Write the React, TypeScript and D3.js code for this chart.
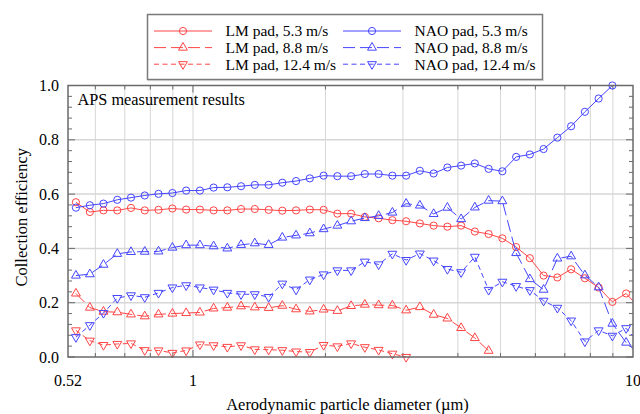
import * as d3 from "d3";
import React, { useRef, useEffect } from "react";

// APS channel midpoints (um)
const diameters = [
  0.542, 0.583, 0.626, 0.673, 0.723, 0.777, 0.835, 0.898, 0.965, 1.037,
  1.114, 1.197, 1.286, 1.382, 1.486, 1.596, 1.715, 1.843, 1.981, 2.129,
  2.288, 2.458, 2.642, 2.839, 3.051, 3.278, 3.523, 3.786, 4.068, 4.371,
  4.698, 5.048, 5.425, 5.829, 6.264, 6.732, 7.234, 7.774, 8.354, 8.977,
  9.647, 10.37,
];

const lm53 = [
  0.57, 0.534, 0.54, 0.54, 0.549, 0.54, 0.542, 0.547, 0.543, 0.543,
  0.54, 0.54, 0.545, 0.545, 0.542, 0.539, 0.54, 0.543, 0.542, 0.528,
  0.528, 0.516, 0.511, 0.504, 0.5, 0.492, 0.484, 0.48, 0.484, 0.462,
  0.453, 0.437, 0.405, 0.364, 0.3, 0.293, 0.323, 0.29, 0.256, 0.203,
  0.234, 0.178,
];
const lm88 = [
  0.234, 0.182, 0.167, 0.165, 0.157, 0.15, 0.157, 0.16, 0.162, 0.164,
  0.179, 0.182, 0.187, 0.183, 0.181, 0.189, 0.176, 0.168, 0.175, 0.17,
  0.188, 0.193, 0.191, 0.19, 0.172, 0.184, 0.156, 0.142, 0.107, 0.07,
  0.023,
];
const lm124 = [
  0.098, 0.06, 0.044, 0.048, 0.05, 0.025, 0.024, 0.015, 0.024, 0.046,
  0.043, 0.037, 0.043, 0.028, 0.027, 0.025, 0.02, 0.018, 0.044, 0.039,
  0.05, 0.036, 0.026, 0.012, 0.0,
];
const nao53 = [
  0.55, 0.559, 0.565, 0.579, 0.587, 0.595, 0.601, 0.604, 0.613, 0.613,
  0.624, 0.625, 0.629, 0.634, 0.634, 0.642, 0.648, 0.658, 0.668, 0.666,
  0.666, 0.674, 0.674, 0.668, 0.668, 0.686, 0.676, 0.698, 0.705, 0.713,
  0.693, 0.684, 0.737, 0.746, 0.766, 0.808, 0.85, 0.903, 0.952, 1.0,
];
const nao88 = [
  0.3, 0.305, 0.34, 0.38, 0.387, 0.388, 0.389, 0.403, 0.412, 0.412,
  0.408, 0.4, 0.413, 0.419, 0.413, 0.44, 0.448, 0.456, 0.471, 0.484,
  0.5, 0.512, 0.52, 0.532, 0.565, 0.558, 0.527, 0.55, 0.508, 0.551,
  0.576, 0.574, 0.383, 0.287, 0.248, 0.363, 0.371, 0.301, 0.257, 0.123,
  0.053, 0.008,
];
const nao124 = [
  0.073, 0.117, 0.162, 0.217, 0.227, 0.22, 0.236, 0.256, 0.264, 0.256,
  0.248, 0.236, 0.231, 0.231, 0.221, 0.27, 0.248, 0.285, 0.304, 0.319,
  0.319, 0.351, 0.341, 0.38, 0.357, 0.381, 0.355, 0.324, 0.312, 0.369,
  0.247, 0.277, 0.261, 0.246, 0.207, 0.181, 0.134, 0.057, 0.098, 0.078,
  0.106, 0.047,
];

const xTickLabels = [0.52, 1, 10];
const xGridValues = [0.6, 0.7, 0.8, 0.9, 1, 2, 3, 4, 5, 6, 7, 8, 9];
const yTickValues = [0, 0.2, 0.4, 0.6, 0.8, 1.0];

const red = "#ff4545";
const blue = "#4545ff";

const series = [
  { name: "LM pad, 5.3 m/s", values: lm53, color: red, dash: null, marker: "circle" },
  { name: "LM pad, 8.8 m/s", values: lm88, color: red, dash: "12,5", marker: "up" },
  { name: "LM pad, 12.4 m/s", values: lm124, color: red, dash: "5,3.5", marker: "down" },
  { name: "NAO pad, 5.3 m/s", values: nao53, color: blue, dash: null, marker: "circle" },
  { name: "NAO pad, 8.8 m/s", values: nao88, color: blue, dash: "12,5", marker: "up" },
  { name: "NAO pad, 12.4 m/s", values: nao124, color: blue, dash: "5,3.5", marker: "down" },
];

const width = 640;
const height = 414;
const margin = { top: 85.5, right: 7, bottom: 57, left: 68 };
const font = "'Liberation Serif', 'Times New Roman', serif";
const frameColor = "#6a6a6a";
const gridColor = "#d6d6d6";

function drawMarker(g: any, type: string, x: number, y: number, color: string) {
  if (type === "circle") {
    g.append("circle")
      .attr("cx", x)
      .attr("cy", y)
      .attr("r", 3.6)
      .attr("fill", "none")
      .attr("stroke", color)
      .attr("stroke-width", 1);
  } else {
    const path = d3.symbol().type(d3.symbolTriangle).size(34)();
    g.append("path")
      .attr("d", path)
      .attr("transform", `translate(${x},${y})${type === "down" ? " rotate(180)" : ""}`)
      .attr("fill", "none")
      .attr("stroke", color)
      .attr("stroke-width", 1);
  }
}

function Chart() {
  const ref = useRef<SVGSVGElement>(null);

  useEffect(() => {
    const innerWidth = width - margin.left - margin.right;
    const innerHeight = height - margin.top - margin.bottom;

    const svg = d3.select(ref.current);
    svg.selectAll("*").remove();
    svg.attr("width", width).attr("height", height);

    const xScale = d3.scaleLog().domain([0.52, 10]).range([0, innerWidth]);
    const yScale = d3.scaleLinear().domain([0, 1]).range([innerHeight, 0]);

    svg
      .append("defs")
      .append("clipPath")
      .attr("id", "plot-clip")
      .append("rect")
      .attr("x", 0)
      .attr("y", -8)
      .attr("width", innerWidth)
      .attr("height", innerHeight + 16);

    const chart = svg
      .append("g")
      .attr("transform", `translate(${margin.left}, ${margin.top})`);

    // grid
    chart
      .selectAll(".vgrid")
      .data(xGridValues)
      .join("line")
      .attr("x1", (d) => xScale(d))
      .attr("x2", (d) => xScale(d))
      .attr("y1", 0)
      .attr("y2", innerHeight)
      .attr("stroke", gridColor)
      .attr("stroke-width", 1);

    chart
      .selectAll(".hgrid")
      .data([0.2, 0.4, 0.6, 0.8])
      .join("line")
      .attr("x1", 0)
      .attr("x2", innerWidth)
      .attr("y1", (d) => yScale(d))
      .attr("y2", (d) => yScale(d))
      .attr("stroke", gridColor)
      .attr("stroke-width", 1.5);

    // ticks, inward on all four sides
    const minorY = d3.range(0, 1.0001, 0.04);
    [0, innerWidth].forEach((x0, side) => {
      const dir = side === 0 ? 1 : -1;
      chart
        .append("g")
        .selectAll("line")
        .data(minorY)
        .join("line")
        .attr("x1", x0)
        .attr("x2", (d) => x0 + dir * (Math.abs((d * 5) % 1) < 0.01 || Math.abs((d * 5) % 1) > 0.99 ? 7 : 4))
        .attr("y1", (d) => yScale(d))
        .attr("y2", (d) => yScale(d))
        .attr("stroke", frameColor)
        .attr("stroke-width", 1);
    });
    [innerHeight, 0].forEach((y0, side) => {
      const dir = side === 0 ? -1 : 1;
      chart
        .append("g")
        .selectAll("line")
        .data(xGridValues)
        .join("line")
        .attr("x1", (d) => xScale(d))
        .attr("x2", (d) => xScale(d))
        .attr("y1", y0)
        .attr("y2", (d) => y0 + dir * (d === 1 ? 7 : 4))
        .attr("stroke", frameColor)
        .attr("stroke-width", 1);
    });

    // series
    const plot = chart.append("g").attr("clip-path", "url(#plot-clip)");
    series.forEach((s) => {
      const pts = s.values.map((v, i) => [diameters[i], v] as [number, number]);
      const line = d3
        .line<[number, number]>()
        .x((d) => xScale(d[0]))
        .y((d) => yScale(d[1]));
      plot
        .append("path")
        .datum(pts)
        .attr("d", line)
        .attr("fill", "none")
        .attr("stroke", s.color)
        .attr("stroke-width", 1)
        .attr("stroke-dasharray", s.dash);
      const mg = plot.append("g");
      pts.forEach((p) => drawMarker(mg, s.marker, xScale(p[0]), yScale(p[1]), s.color));
    });

    // frame
    chart
      .append("rect")
      .attr("x", 0)
      .attr("y", 0)
      .attr("width", innerWidth)
      .attr("height", innerHeight)
      .attr("fill", "none")
      .attr("stroke", frameColor)
      .attr("stroke-width", 1.5);

    // tick labels
    chart
      .selectAll(".ylabel")
      .data(yTickValues)
      .join("text")
      .attr("x", -9)
      .attr("y", (d) => yScale(d))
      .attr("dy", "0.35em")
      .attr("text-anchor", "end")
      .style("font-family", font)
      .style("font-size", "16px")
      .attr("fill", "#000")
      .text((d) => d3.format(".1f")(d));

    chart
      .selectAll(".xlabel")
      .data(xTickLabels)
      .join("text")
      .attr("x", (d) => xScale(d))
      .attr("y", innerHeight + 29)
      .attr("text-anchor", "middle")
      .style("font-family", font)
      .style("font-size", "16px")
      .attr("fill", "#000")
      .text((d) => String(d));

    // axis titles
    chart
      .append("text")
      .attr("x", innerWidth / 2 - 3)
      .attr("y", innerHeight + 53)
      .attr("text-anchor", "middle")
      .style("font-family", font)
      .style("font-size", "16.5px")
      .attr("fill", "#000")
      .text("Aerodynamic particle diameter (\u00b5m)");

    chart
      .append("text")
      .attr("transform", `translate(-41, ${innerHeight / 2 - 4}) rotate(-90)`)
      .attr("text-anchor", "middle")
      .style("font-family", font)
      .style("font-size", "16.5px")
      .attr("fill", "#000")
      .text("Collection efficiency");

    chart
      .append("text")
      .attr("x", 9.5)
      .attr("y", 19.5)
      .style("font-family", font)
      .style("font-size", "16.3px")
      .attr("fill", "#000")
      .text("APS measurement results");

    // legend
    const legend = svg.append("g");
    legend
      .append("line")
      .attr("x1", 148)
      .attr("x2", 544)
      .attr("y1", 80.5)
      .attr("y2", 80.5)
      .attr("stroke", "#e2e2e2")
      .attr("stroke-width", 1.5);
    legend
      .append("rect")
      .attr("x", 147.5)
      .attr("y", 14.5)
      .attr("width", 395)
      .attr("height", 65)
      .attr("fill", "#fff")
      .attr("stroke", "#7a7a7a")
      .attr("stroke-width", 1.5);

    series.forEach((s, i) => {
      const col = Math.floor(i / 3);
      const row = i % 3;
      const x0 = col === 0 ? 154 : 343;
      const y0 = 31 + row * 16.6;
      legend
        .append("line")
        .attr("x1", x0)
        .attr("x2", x0 + 58)
        .attr("y1", y0)
        .attr("y2", y0)
        .attr("stroke", s.color)
        .attr("stroke-width", 1)
        .attr("stroke-dasharray", s.dash);
      drawMarker(legend, s.marker, x0 + 29, y0, s.color);
      legend
        .append("text")
        .attr("x", x0 + 71.5)
        .attr("y", y0)
        .attr("dy", "0.35em")
        .style("font-family", font)
        .style("font-size", "15.5px")
        .attr("fill", "#000")
        .text(s.name);
    });
  }, []);

  return <svg ref={ref} style={{ position: "absolute", left: 0, top: 0 }}></svg>;
}

export default function App() {
  return (
    <div className="chart">
      <Chart />
    </div>
  );
}
